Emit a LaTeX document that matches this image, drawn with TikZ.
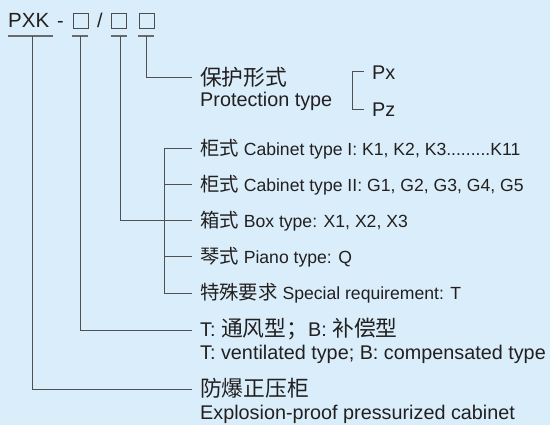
\documentclass[tikz,border=0pt]{standalone}
\usepackage{fontspec}
\setmainfont{Liberation Sans}
\newfontfamily\cjk[Scale=1.1]{Noto Sans CJK SC}
\definecolor{bg}{RGB}{217,238,250}
\definecolor{ink}{RGB}{35,31,32}
\definecolor{wirec}{RGB}{80,80,80}
\begin{document}
\begin{tikzpicture}[x=1pt,y=-1pt,
  txt/.style={anchor=base west,inner sep=0pt,text=ink},
  hd/.style={txt,font=\fontsize{19.8}{22}\selectfont},
  rowtxt/.style={txt,font=\fontsize{17.6}{20}\selectfont},
  wire/.style={draw=wirec,line width=1pt},
  ul/.style={draw=wirec!85,line width=1.4pt},
  sq/.style={draw=ink!80,line width=0.7pt,minimum size=15pt,inner sep=0pt,rectangle}]
\fill[bg] (0,0) rectangle (550,425);
\useasboundingbox (0,0) rectangle (550,425);

% title
\node[hd,font=\fontsize{20.5}{22}\selectfont] (pxk) at (8,27.5) {PXK};
\node[hd,anchor=base] (dash) at (60.5,27.5) {-};
\node[sq] (b1) at (80.5,20.5) {};
\node[hd,anchor=base] (slash) at (100,27.5) {/};
\node[sq] (b2) at (119,20.5) {};
\node[sq] (b3) at (147,20.5) {};

% underlines
\draw[ul] (8,36) -- (53,36);
\draw[ul] (72,36) -- (88,36);
\draw[ul] (111,36) -- (127,36);
\draw[ul] (138,36) -- (154,36);
\coordinate (u0) at (32,36);
\coordinate (u1) at (80,36);
\coordinate (u2) at (120,36);
\coordinate (u3) at (146,36);

% junction ends
\coordinate (j0) at (192,390);
\coordinate (j1) at (192,331);
\coordinate (j2) at (192,221);
\coordinate (j3) at (192,78);
\coordinate (r1) at (192,149);
\coordinate (r2) at (192,185);
\coordinate (r4) at (192,257);
\coordinate (r5) at (192,294);
\coordinate (k1) at (164,149);
\coordinate (k2) at (164,185);
\coordinate (k4) at (164,257);
\coordinate (k5) at (164,294);

% texts
\node[hd] (prcn) at (200,85.5) {{\cjk 保护形式}};
\node[hd] (pren) at (200,107) {Protection type};
\node[hd] (px) at (372,80) {Px};
\node[hd] (pz) at (372,117) {Pz};
\coordinate (pxa) at (364,72);
\coordinate (pza) at (364,110);

\node[rowtxt] (c1) at (200,155.5) {{\cjk 柜式} Cabinet type I: K1, K2, K3.........K11};
\node[rowtxt] (c2) at (200,191.5) {{\cjk 柜式} Cabinet type II: G1, G2, G3, G4, G5};
\node[rowtxt] (c3) at (200,227.5) {{\cjk 箱式} Box type: X1, X2, X3};
\node[rowtxt] (c4) at (200,263.5) {{\cjk 琴式} Piano type: Q};
\node[rowtxt] (c5) at (200,300) {{\cjk 特殊要求} Special requirement: T};

\node[hd] (tcn) at (200,337) {T: {\cjk 通风型；}B: {\cjk 补偿型}};
\node[hd] (ten) at (200,360) {T: ventilated type; B: compensated type};
\node[hd] (ecn) at (200,397) {{\cjk 防爆正压柜}};
\node[hd] (een) at (200,420) {Explosion-proof pressurized cabinet};

% connectors
\draw[wire] (u0) |- (j0);
\draw[wire] (u1) |- (j1);
\draw[wire] (u2) |- (j2);
\draw[wire] (u3) |- (j3);
\draw[wire] (r1) -- (k1) -- (k5) -- (r5);
\draw[wire] (k2) -- (r2);
\draw[wire] (k4) -- (r4);
\draw[wire] (pxa) -- ++(-12,0) |- (pza);
\end{tikzpicture}
\end{document}
